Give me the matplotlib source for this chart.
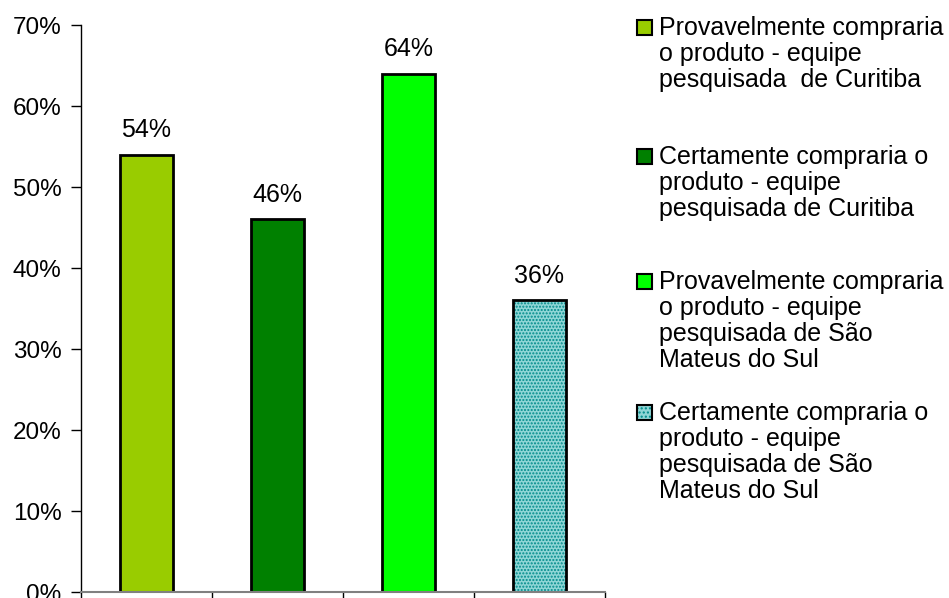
import numpy as np
import matplotlib.pyplot as plt
from matplotlib.patches import Rectangle

plt.rcParams['font.family'] = ['Liberation Sans', 'DejaVu Sans']

# respostas de intenção de compra por equipe
rotulos = [
    'Provavelmente compraria\no produto - equipe\npesquisada  de Curitiba',
    'Certamente compraria o\nproduto - equipe\npesquisada de Curitiba',
    'Provavelmente compraria\no produto - equipe\npesquisada de São\nMateus do Sul',
    'Certamente compraria o\nproduto - equipe\npesquisada de São\nMateus do Sul',
]
valores = [54, 46, 64, 36]
cores = ['#99cc00', '#008000', '#00ff00', '#8fd6d6']
hachuras = [None, None, None, '.....']
yticks = [0, 10, 20, 30, 40, 50, 60, 70]

fig = plt.figure(figsize=(9.49, 5.98), dpi=100)
ax = fig.add_axes([0.0854, 0.01, 0.552, 0.948])

x = np.arange(len(valores))
for i, (v, c, h) in enumerate(zip(valores, cores, hachuras)):
    if h:
        ax.bar(x[i], v, width=0.41, color=c, hatch=h, edgecolor='#008b8b', linewidth=0)
        ax.bar(x[i], v, width=0.41, fill=False, edgecolor='black', linewidth=2)
    else:
        ax.bar(x[i], v, width=0.41, color=c, edgecolor='black', linewidth=2)
    ax.text(x[i], v + 2.2, f'{v}%', ha='center', va='baseline', fontsize=18)

ax.set_xlim(-0.5, len(valores) - 0.5)
ax.set_ylim(0, 70)
ax.set_yticks(yticks)
ax.set_yticklabels([f'{t}%' for t in yticks], fontsize=17.5)
ax.set_xticks(np.arange(len(valores) + 1) - 0.5)
ax.set_xticklabels([])
ax.tick_params(axis='y', direction='out', length=7, width=1, pad=7)
ax.tick_params(axis='x', direction='out', length=7, width=1)
for lado in ['top', 'right']:
    ax.spines[lado].set_visible(False)
ax.spines['left'].set_linewidth(1)
ax.spines['bottom'].set_color('#808080')
ax.spines['bottom'].set_linewidth(1.5)
ax.spines['bottom'].set_clip_on(False)

# legenda desenhada à mão à direita do gráfico, uma linha de texto por vez
centros_px = [27, 156, 281, 412]
W, H = 949, 598
sq = 15
passo = 26
for rot, c, h, ypx in zip(rotulos, cores, hachuras, centros_px):
    yf = 1 - ypx / H
    pos = (637 / W, yf - sq / 2 / H)
    if h:
        fig.patches.append(Rectangle(pos, sq / W, sq / H, transform=fig.transFigure,
                                     facecolor=c, hatch='....', edgecolor='#008b8b', linewidth=0))
        fig.patches.append(Rectangle(pos, sq / W, sq / H, transform=fig.transFigure,
                                     fill=False, edgecolor='black', linewidth=1.5))
    else:
        fig.patches.append(Rectangle(pos, sq / W, sq / H, transform=fig.transFigure,
                                     facecolor=c, edgecolor='black', linewidth=1.5))
    for k, linha in enumerate(rot.split('\n')):
        fig.text(659 / W, 1 - (ypx + 8 + k * passo) / H, linha,
                 ha='left', va='baseline', fontsize=18)

fig.savefig('out.png', dpi=100)
